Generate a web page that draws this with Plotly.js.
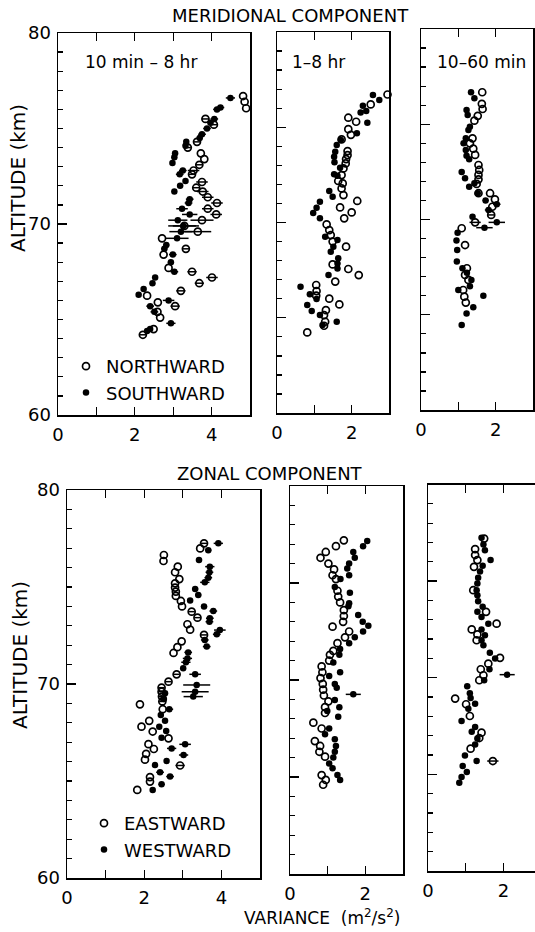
<!DOCTYPE html>
<html><head><meta charset="utf-8">
<script src="https://cdn.plot.ly/plotly-3.0.1.min.js"></script>
<style>html,body{margin:0;padding:0;background:#fff}#chart{width:535px;height:932px}</style>
</head><body><div id="chart"></div>
<script>
// ---------- DATA (variance m^2/s^2 vs altitude km) ----------
// Meridional, 10 min - 8 hr
const merAll_north_v   = [4.82,4.86,4.90,3.84,4.06,3.62,3.38,3.72,3.81,3.68,3.53,3.49,3.75,3.60,3.77,3.90,4.14,3.90,4.12,3.75,3.29,3.64,2.71,2.75,3.33,2.88,3.49,4.01,3.68,3.20,2.32,2.60,3.05,2.59,2.66,2.49,2.21];
const merAll_north_alt = [76.7,76.4,76.06,75.5,75.2,74.3,74.0,73.7,73.4,73.1,72.8,72.6,72.2,71.9,71.7,71.4,71.1,70.8,70.5,70.2,69.9,69.6,69.25,68.4,68.7,67.7,67.5,67.2,66.9,66.5,66.25,65.9,65.7,65.4,65.1,64.5,64.2];
const merAll_north_err = [0,0,0,0.1,0.1,0.08,0.08,0,0,0.1,0.15,0.1,0.15,0.1,0.15,0.15,0.15,0.15,0.15,0.3,0.3,0.35,0,0,0.1,0,0.12,0.15,0.12,0.12,0,0,0.12,0,0,0,0.1];
const merAll_south_v   = [4.49,4.23,4.14,4.07,3.97,3.88,3.75,3.69,3.34,3.32,3.05,3.03,2.98,3.25,3.17,3.32,3.18,3.03,3.43,3.40,3.23,3.43,3.12,3.27,3.20,3.10,2.82,2.77,2.99,2.94,3.03,2.53,2.46,2.23,2.10,2.88,2.40,2.51,2.94,2.40,2.32];
const merAll_south_alt = [76.6,76.1,76.0,75.5,75.3,75.0,74.7,74.5,74.3,74.1,73.7,73.5,73.2,72.8,72.6,72.25,72.0,71.7,71.3,71.1,70.8,70.5,70.2,69.9,69.6,69.25,68.9,68.7,68.4,68.0,67.5,67.2,66.9,66.6,66.3,66.0,65.7,65.4,64.8,64.5,64.4];
const merAll_south_err = [0.12,0.1,0.1,0.1,0.08,0.1,0.1,0.08,0.05,0.05,0,0,0,0.1,0.1,0,0.08,0,0.1,0.1,0.15,0.2,0.25,0.4,0.3,0.3,0.08,0.08,0.1,0.08,0.1,0.05,0.05,0,0,0.15,0.1,0.1,0.12,0.05,0];
// Meridional, 1 - 8 hr
const merLong_north_v   = [2.96,2.51,1.91,2.12,1.91,1.98,1.73,1.89,1.89,1.85,1.84,1.78,1.73,1.64,1.76,1.73,1.78,2.15,1.69,2.00,1.80,1.33,1.40,1.44,1.49,1.85,1.49,1.91,2.19,1.56,1.05,1.06,1.05,1.40,1.67,1.31,1.26,1.29,1.26,0.81];
const merLong_north_alt = [76.72,76.2,75.5,75.29,74.9,74.6,74.36,73.75,73.54,73.33,73.1,72.84,72.49,72.18,72.05,71.79,71.44,71.13,70.79,70.53,70.22,69.9,69.6,69.34,69.0,68.73,67.8,67.56,67.24,66.9,66.72,66.4,66.16,66.0,65.7,65.4,65.14,64.79,64.58,64.23];
const merLong_south_v   = [2.57,2.74,2.30,2.39,2.24,2.42,2.14,1.71,1.60,1.56,1.53,1.54,1.69,1.53,1.62,1.40,1.49,1.15,1.06,0.97,1.15,1.29,1.62,1.51,1.44,1.64,1.62,1.62,1.38,0.63,0.88,1.06,0.81,0.93,1.15,1.22,1.60];
const merLong_south_alt = [76.69,76.43,76.13,75.85,75.78,75.24,74.68,74.33,74.07,73.72,73.45,73.16,72.88,72.53,72.46,71.65,71.35,71.09,70.77,70.5,70.22,69.25,69.08,68.73,68.47,68.12,67.85,67.59,67.24,66.63,66.24,65.98,65.67,65.35,65.14,64.62,64.79];
// Meridional, 10 - 60 min
const merShort_north_v   = [1.64,1.63,1.65,1.52,1.43,1.38,1.31,1.40,1.45,1.54,1.56,1.54,1.54,1.49,1.54,1.85,1.98,1.91,1.88,1.45,1.09,1.18,1.23,1.18,1.27,1.13,1.16,1.20];
const merShort_north_alt = [76.68,76.07,75.8,75.44,75.19,74.26,74.0,73.72,73.39,72.86,72.6,72.34,72.11,71.87,71.38,71.38,71.06,70.67,70.24,69.85,69.54,68.66,67.44,67.09,66.83,66.3,65.95,65.64];
const merShort_north_err = [0,0,0,0,0,0,0,0,0,0,0,0,0,0,0,0,0,0,0.1,0.15,0,0,0,0,0,0,0,0];
const merShort_south_v   = [1.34,1.43,1.22,1.25,1.31,1.27,1.20,1.14,1.20,1.22,1.29,1.09,1.18,1.29,1.43,1.52,1.73,2.03,1.81,1.38,1.70,2.03,0.98,0.95,0.97,0.96,1.11,1.23,1.35,1.31,1.0,1.67,1.40,1.22,1.09];
const merShort_south_alt = [76.68,76.36,75.75,75.49,74.87,74.7,74.26,74.0,73.65,73.34,73.16,72.5,72.16,71.72,71.9,71.38,71.0,70.8,70.5,70.15,69.57,69.85,69.3,68.9,68.4,67.79,67.44,67.2,66.83,66.5,66.3,66.0,65.4,65.07,64.46];
const merShort_south_err = [0,0,0,0,0,0,0,0,0,0,0,0,0,0,0,0,0.08,0.1,0.1,0,0.22,0.22,0,0,0,0,0,0,0,0,0,0,0,0,0];
// Zonal, 10 min - 8 hr
const zonAll_east_v   = [3.55,3.45,2.51,2.50,2.87,2.80,2.91,2.80,2.80,2.82,2.82,2.95,2.98,3.23,3.38,3.12,3.19,3.55,2.97,2.86,2.76,2.84,2.63,2.45,2.45,2.46,2.47,1.89,2.48,2.13,1.93,2.22,2.63,2.11,2.25,2.05,2.02,2.93,2.15,2.15,1.82];
const zonAll_east_alt = [77.25,76.99,76.65,76.34,76.05,75.76,75.41,75.19,74.97,74.76,74.54,74.28,74.0,73.73,73.42,73.08,72.8,72.53,72.2,71.9,71.6,70.5,70.12,69.81,69.6,69.35,69.1,68.95,68.7,68.1,67.8,67.55,67.2,66.9,66.65,66.4,66.1,65.8,65.2,64.97,64.54];
const zonAll_east_err = [0.08,0,0,0,0,0,0,0,0,0,0,0,0,0.08,0.08,0,0,0.1,0,0,0,0.08,0.08,0.08,0.08,0.08,0.08,0,0,0,0,0,0,0,0,0,0,0.12,0,0,0];
const zonAll_west_v   = [3.92,3.66,3.42,3.70,3.69,3.66,3.57,3.32,3.40,3.19,3.55,3.79,3.70,3.69,3.96,3.88,3.57,3.62,3.14,3.12,3.08,3.01,3.32,3.36,3.32,3.27,2.54,2.51,2.65,2.43,2.54,2.39,2.57,2.45,3.06,2.71,3.02,2.58,2.28,2.41,2.67,2.45,2.22];
const zonAll_west_alt = [77.25,76.9,76.39,76.05,75.76,75.48,75.24,74.9,74.59,74.3,73.99,73.76,73.39,73.21,72.78,72.56,72.27,71.93,71.63,71.32,71.12,70.81,70.5,69.95,69.6,69.35,69.52,69.23,68.7,68.4,68.1,67.8,67.58,67.23,66.89,66.68,66.34,66.03,65.82,65.45,65.23,64.83,64.54];
const zonAll_west_err = [0.12,0.08,0.08,0.12,0.1,0.1,0.12,0.08,0.08,0,0.08,0.1,0.1,0.1,0.15,0.1,0.1,0.1,0.1,0.12,0.12,0,0.15,0.35,0.35,0.25,0,0,0.1,0,0,0,0,0,0.15,0.12,0.12,0,0,0.1,0.1,0.08,0];
// Zonal, 1 - 8 hr
const zonLong_east_v   = [1.43,1.22,0.95,0.81,1.02,1.17,1.13,1.22,1.26,1.28,1.33,1.43,1.43,1.41,1.13,1.57,1.46,1.26,1.15,1.06,1.04,0.84,0.86,0.81,0.87,0.88,0.90,1.02,0.93,0.93,0.62,0.84,0.66,0.80,0.78,0.93,0.84,0.95,0.88];
const zonLong_east_alt = [77.2,76.9,76.6,76.3,76.0,75.7,75.4,75.2,74.6,74.3,74.0,73.6,73.3,73.0,72.75,72.5,72.2,71.9,71.5,71.3,71.0,70.7,70.4,70.1,69.8,69.5,69.2,68.9,68.6,68.3,67.8,67.5,66.85,66.6,66.3,66.05,65.1,64.85,64.6];
const zonLong_west_v   = [2.05,1.94,1.68,1.72,1.57,1.52,1.57,1.34,1.19,1.59,1.57,1.55,1.81,1.93,2.08,1.94,1.72,1.57,1.33,1.31,1.15,1.33,1.04,1.19,1.24,1.68,1.19,1.31,0.99,1.28,1.04,0.93,1.19,1.22,1.19,1.15,1.04,1.13,1.26,1.33];
const zonLong_west_alt = [77.16,76.9,76.6,76.3,76.0,75.75,75.4,75.2,74.8,74.5,73.95,73.8,73.35,73.0,72.8,72.5,72.2,71.9,71.6,71.3,70.9,70.4,70.2,69.8,69.6,69.26,68.97,68.6,68.4,68.1,67.5,67.2,66.94,66.6,66.3,66.0,65.7,65.45,65.1,64.85];
const zonLong_west_err = [0,0,0,0,0,0,0,0,0,0,0,0,0,0,0,0,0,0,0,0,0,0,0,0,0,0.2,0,0,0,0,0,0,0,0,0,0,0,0,0,0];
// Zonal, 10 - 60 min
const zonShort_east_v   = [1.49,1.25,1.25,1.31,1.22,1.20,1.54,1.82,1.16,1.31,1.29,1.91,1.60,1.40,1.47,1.36,0.72,1.01,1.11,1.42,1.36,1.13,1.72];
const zonShort_east_alt = [77.2,76.66,76.35,76.09,75.74,74.53,73.41,72.8,72.5,72.24,71.94,71.03,70.73,70.44,70.13,69.87,68.92,68.63,68.02,67.16,66.88,66.33,65.69];
const zonShort_east_err = [0,0,0,0,0,0,0,0,0,0,0,0,0,0,0,0,0,0,0,0,0,0,0.15];
const zonShort_west_v   = [1.42,1.47,1.51,1.66,1.45,1.38,1.33,1.31,1.29,1.31,1.33,1.45,1.31,1.42,1.60,1.42,1.51,1.42,1.47,1.64,1.78,1.63,1.49,2.10,1.04,1.11,1.13,1.25,1.07,0.89,1.25,1.16,1.31,1.25,0.98,1.29,0.92,1.03,0.89,0.83];
const zonShort_west_alt = [77.24,76.9,76.6,76.09,75.8,75.5,75.17,74.88,74.53,74.27,73.96,73.67,73.41,73.15,72.8,72.5,72.2,71.94,71.68,71.3,70.99,70.44,69.87,70.16,69.56,69.2,68.95,68.66,68.4,67.76,67.45,67.2,66.85,66.54,65.98,65.69,65.43,65.12,64.86,64.57];
const zonShort_west_err = [0,0,0,0,0,0,0,0,0,0,0,0,0,0,0,0,0,0,0,0,0,0,0,0.2,0,0,0,0,0,0,0,0,0,0,0,0,0,0,0,0];

const panelLabels = ['10 min \u2013 8 hr', '1\u20138 hr', '10\u201360 min'];
const seriesNames = ['NORTHWARD','SOUTHWARD','EASTWARD','WESTWARD'];

// ---------- BUILD ----------
const W = 535, H = 932;
const FONT = 'DejaVu Sans, Liberation Sans, sans-serif';
function px2x(p){return p/W;}
function px2y(p){return 1-p/H;}

function trace(n, v, alt, err, filled, name, legend){
  const t = {
    type:'scatter', mode:'markers', x:v, y:alt,
    xaxis: n===1?'x':'x'+n, yaxis: n===1?'y':'y'+n,
    marker: filled ? {symbol:'circle', size:6.5, color:'#000'}
                   : {symbol:'circle-open', size:7, color:'#000', line:{width:1.7, color:'#000'}},
    showlegend: !!name, name: name||'', hoverinfo:'skip', cliponaxis:false
  };
  if (legend) t.legend = legend;
  if (err) t.error_x = {type:'data', array:err, visible:true, color:'#000', thickness:1.5, width:0};
  return t;
}

const data = [
  trace(1, merAll_north_v, merAll_north_alt, merAll_north_err, false, seriesNames[0], 'legend'),
  trace(1, merAll_south_v, merAll_south_alt, merAll_south_err, true, seriesNames[1], 'legend'),
  trace(2, merLong_north_v, merLong_north_alt, null, false),
  trace(2, merLong_south_v, merLong_south_alt, null, true),
  trace(3, merShort_north_v, merShort_north_alt, merShort_north_err, false),
  trace(3, merShort_south_v, merShort_south_alt, merShort_south_err, true),
  trace(4, zonAll_east_v, zonAll_east_alt, zonAll_east_err, false, seriesNames[2], 'legend2'),
  trace(4, zonAll_west_v, zonAll_west_alt, zonAll_west_err, true, seriesNames[3], 'legend2'),
  trace(5, zonLong_east_v, zonLong_east_alt, null, false),
  trace(5, zonLong_west_v, zonLong_west_alt, zonLong_west_err, true),
  trace(6, zonShort_east_v, zonShort_east_alt, zonShort_east_err, false),
  trace(6, zonShort_west_v, zonShort_west_alt, zonShort_west_err, true)
];

// panel pixel boxes: [left, right, top, bottom, xmax]
const boxes = [
  [58, 250, 33, 415, 5],
  [277, 389, 32, 413, 3],
  [421, 533, 29, 410, 3],
  [67, 260, 490, 878, 5],
  [290, 403, 486, 874, 3],
  [428, 535, 484.5, 871, (535-428)/37.7]
];

const layout = {
  width:W, height:H, margin:{l:0,r:0,t:0,b:0},
  paper_bgcolor:'#fff', plot_bgcolor:'rgba(0,0,0,0)',
  font:{family:FONT, color:'#000', size:17},
  showlegend:true,
  legend:{x:px2x(66), y:px2y(348), xanchor:'left', yanchor:'top', bgcolor:'rgba(0,0,0,0)',
          font:{family:FONT, size:18}, itemwidth:30, tracegroupgap:0},
  legend2:{x:px2x(84), y:px2y(805), xanchor:'left', yanchor:'top', bgcolor:'rgba(0,0,0,0)',
          font:{family:FONT, size:18}, itemwidth:30, tracegroupgap:0},
  annotations:[]
};

boxes.forEach((b, i) => {
  const n = i+1;
  const left = (i%3===0);
  const xa = {
    domain:[px2x(b[0]), Math.min(1, px2x(b[1]))], range:[0, b[4]], anchor: n===1?'y':'y'+n,
    showline:true, linecolor:'#000', linewidth:1.5, mirror:'ticks',
    ticks:'inside', ticklen:8, tickwidth:1.3, tickcolor:'#000',
    tickmode:'linear', tick0:0, dtick:2,
    minor:{tickmode:'linear', tick0:0, dtick:1, ticks:'inside', ticklen:8, tickwidth:1.3, tickcolor:'#000', showgrid:false},
    tickfont:{family:FONT, size:18}, ticklabelstandoff:3,
    showgrid:false, zeroline:false, fixedrange:true
  };
  const ya = {
    domain:[px2y(b[3]), px2y(b[2])], range:[60, 80], anchor: n===1?'x':'x'+n,
    showline:true, linecolor:'#000', linewidth:1.5, mirror: (i===5 ? false : true),
    ticks:'inside', ticklen:9, tickwidth:1.3, tickcolor:'#000',
    tickmode:'linear', tick0:60, dtick: left ? 10 : 5,
    showticklabels:left, tickfont:{family:FONT, size:18}, ticklabelstandoff:2,
    minor:{tickmode:'linear', tick0:60, dtick:1, ticks:'inside', ticklen:5, tickwidth:1.3, tickcolor:'#000', showgrid:false},
    showgrid:false, zeroline:false, fixedrange:true
  };
  layout[n===1?'xaxis':'xaxis'+n] = xa;
  layout[n===1?'yaxis':'yaxis'+n] = ya;
});

const ann = (text, xp, yp, size, extra) => Object.assign({
  text, x:px2x(xp), y:px2y(yp), xref:'paper', yref:'paper', showarrow:false,
  xanchor:'center', yanchor:'middle', font:{family:FONT, size, color:'#000'}
}, extra||{});

layout.annotations.push(
  ann('MERIDIONAL COMPONENT', 290, 15, 18),
  ann('ZONAL COMPONENT', 270, 473, 18),
  ann(panelLabels[0], 141, 62, 17),
  ann(panelLabels[1], 318, 62, 17),
  ann(panelLabels[2], 481, 62, 17),
  ann('ALTITUDE (km)', 18, 178, 20, {textangle:-90}),
  ann('ALTITUDE (km)', 20, 655, 20, {textangle:-90}),
  ann('VARIANCE  (m<sup>2</sup>/s<sup>2</sup>)', 322, 917, 17)
);

Plotly.newPlot('chart', data, layout, {displayModeBar:false, staticPlot:true});
</script></body></html>
